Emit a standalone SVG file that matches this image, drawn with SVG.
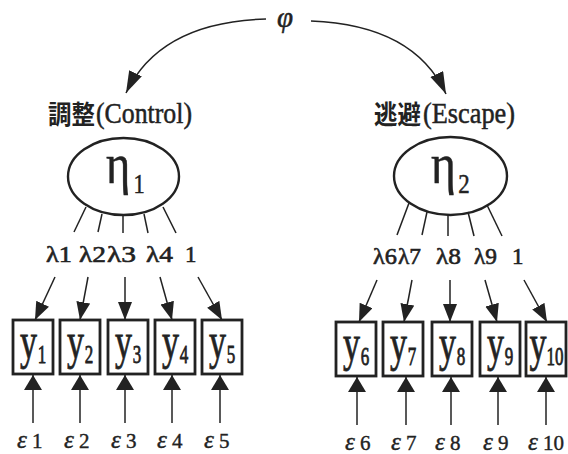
<svg xmlns="http://www.w3.org/2000/svg" width="568" height="454" viewBox="0 0 568 454">
<style>
.ln{stroke:#222;stroke-width:1.5;fill:none}
.box{fill:#fff;stroke:#222;stroke-width:2.8}
.ell{fill:#fff;stroke:#222;stroke-width:2.4}
.ser{font-family:"Liberation Serif","Times New Roman",serif;fill:#222;stroke:#222;stroke-width:0.5}
.cjk{font-family:"Noto Sans CJK JP","Noto Sans CJK SC",sans-serif;font-weight:bold;fill:#222}
.lam{font-family:"Liberation Serif",serif;font-size:23px;fill:#222;stroke:#222;stroke-width:0.6}
.eps{font-family:"Liberation Serif",serif;font-size:21px;fill:#222;stroke:#222;stroke-width:0.4}
.ep{font-style:italic;font-size:25px}
.yv{font-family:"Liberation Serif",serif;font-size:50px;fill:#222;stroke:#222;stroke-width:0.8}
.sb{font-size:25px}
.es{font-size:28px}
</style>
<defs>
<marker id="ahTop" markerUnits="userSpaceOnUse" markerWidth="20" markerHeight="16" refX="18" refY="7" orient="auto"><path d="M0,0 L18,7 L0,14 z" fill="#222"/></marker>
<marker id="ahBot" markerUnits="userSpaceOnUse" markerWidth="17" markerHeight="20" refX="15" refY="9" orient="auto"><path d="M0,0 L15,9 L0,18 z" fill="#222"/></marker>
<marker id="ahArc" markerUnits="userSpaceOnUse" markerWidth="24" markerHeight="16" refX="22" refY="7" orient="auto"><path d="M0,0 L22,7 L0,14 z" fill="#222"/></marker>
</defs>

<g id="phi"><text class="ser" x="285" y="27" font-size="29" font-style="italic" text-anchor="middle">φ</text></g>

<g id="eta1">
<text class="cjk" x="48" y="124" font-size="26" textLength="47" lengthAdjust="spacingAndGlyphs">調整</text>
<text class="ser" x="96" y="123" font-size="30" textLength="96" lengthAdjust="spacingAndGlyphs">(Control)</text>
<ellipse class="ell" cx="123.5" cy="176.5" rx="55.5" ry="38.5"/>
<text class="ser" font-size="58" transform="translate(106,183) scale(0.8,1)">η<tspan class="es" dx="4" dy="10">1</tspan></text>
</g>

<g id="eta2">
<text class="cjk" x="374" y="124" font-size="26" textLength="47" lengthAdjust="spacingAndGlyphs">逃避</text>
<text class="ser" x="423" y="123" font-size="30" textLength="92" lengthAdjust="spacingAndGlyphs">(Escape)</text>
<ellipse class="ell" cx="450.5" cy="176" rx="56.5" ry="39"/>
<text class="ser" font-size="58" transform="translate(431,183) scale(0.82,1)">η<tspan class="es" dx="3" dy="10">2</tspan></text>
</g>

<g id="y1"><rect class="box" x="13" y="320" width="40" height="54"/><text class="yv" transform="translate(20,358) scale(0.68,1)">y<tspan class="sb" dx="1" dy="5">1</tspan></text></g>
<g id="y2"><rect class="box" x="60" y="320" width="40" height="54"/><text class="yv" transform="translate(67,358) scale(0.68,1)">y<tspan class="sb" dx="1" dy="5">2</tspan></text></g>
<g id="y3"><rect class="box" x="108" y="320" width="40" height="54"/><text class="yv" transform="translate(115,358) scale(0.68,1)">y<tspan class="sb" dx="1" dy="5">3</tspan></text></g>
<g id="y4"><rect class="box" x="155" y="320" width="40" height="54"/><text class="yv" transform="translate(162,358) scale(0.68,1)">y<tspan class="sb" dx="1" dy="5">4</tspan></text></g>
<g id="y5"><rect class="box" x="202" y="320" width="40" height="54"/><text class="yv" transform="translate(209,358) scale(0.68,1)">y<tspan class="sb" dx="1" dy="5">5</tspan></text></g>

<g id="y6"><rect class="box" x="336" y="322" width="40" height="54"/><text class="yv" transform="translate(343,360) scale(0.68,1)">y<tspan class="sb" dx="1" dy="5">6</tspan></text></g>
<g id="y7"><rect class="box" x="383" y="322" width="40" height="54"/><text class="yv" transform="translate(390,360) scale(0.68,1)">y<tspan class="sb" dx="1" dy="5">7</tspan></text></g>
<g id="y8"><rect class="box" x="432" y="322" width="40" height="54"/><text class="yv" transform="translate(439,360) scale(0.68,1)">y<tspan class="sb" dx="1" dy="5">8</tspan></text></g>
<g id="y9"><rect class="box" x="480" y="322" width="40" height="54"/><text class="yv" transform="translate(487,360) scale(0.68,1)">y<tspan class="sb" dx="1" dy="5">9</tspan></text></g>
<g id="y10"><rect class="box" x="526" y="322" width="40" height="54"/><text class="yv" transform="translate(529.5,360) scale(0.68,1)">y<tspan class="sb" dx="0" dy="5">10</tspan></text></g>

<g id="e1"><text class="eps" x="17" y="448"><tspan class="ep">ε</tspan> 1</text></g>
<g id="e2"><text class="eps" x="64" y="448"><tspan class="ep">ε</tspan> 2</text></g>
<g id="e3"><text class="eps" x="111" y="448"><tspan class="ep">ε</tspan> 3</text></g>
<g id="e4"><text class="eps" x="157" y="448"><tspan class="ep">ε</tspan> 4</text></g>
<g id="e5"><text class="eps" x="204" y="448"><tspan class="ep">ε</tspan> 5</text></g>
<g id="e6"><text class="eps" x="345" y="450"><tspan class="ep">ε</tspan> 6</text></g>
<g id="e7"><text class="eps" x="391" y="450"><tspan class="ep">ε</tspan> 7</text></g>
<g id="e8"><text class="eps" x="435" y="450"><tspan class="ep">ε</tspan> 8</text></g>
<g id="e9"><text class="eps" x="483" y="450"><tspan class="ep">ε</tspan> 9</text></g>
<g id="e10"><text class="eps" x="528" y="450"><tspan class="ep">ε</tspan> 10</text></g>

<g id="connectors">
<path class="ln" d="M266,19 Q160,22 126,93" marker-end="url(#ahArc)"/>
<path class="ln" d="M311,21 Q414,25 446,94" marker-end="url(#ahArc)"/>

<line class="ln" x1="86" y1="207" x2="74" y2="232"/>
<line class="ln" x1="102" y1="214" x2="98" y2="232"/>
<line class="ln" x1="123" y1="215" x2="123" y2="233"/>
<line class="ln" x1="144" y1="214" x2="148" y2="233"/>
<line class="ln" x1="163" y1="207" x2="176" y2="233"/>

<line class="ln" x1="409" y1="203" x2="397" y2="235"/>
<line class="ln" x1="427" y1="212" x2="422" y2="235"/>
<line class="ln" x1="448" y1="215" x2="448" y2="236"/>
<line class="ln" x1="468" y1="212" x2="474" y2="236"/>
<line class="ln" x1="487" y1="205" x2="502" y2="236"/>

<line class="ln" x1="55" y1="277" x2="35" y2="320" marker-end="url(#ahTop)"/>
<line class="ln" x1="88" y1="277" x2="80" y2="320" marker-end="url(#ahTop)"/>
<line class="ln" x1="125" y1="277" x2="125" y2="320" marker-end="url(#ahTop)"/>
<line class="ln" x1="160" y1="277" x2="172" y2="320" marker-end="url(#ahTop)"/>
<line class="ln" x1="198" y1="277" x2="222" y2="320" marker-end="url(#ahTop)"/>

<line class="ln" x1="377" y1="280" x2="359" y2="322" marker-end="url(#ahTop)"/>
<line class="ln" x1="412" y1="280" x2="404" y2="322" marker-end="url(#ahTop)"/>
<line class="ln" x1="450" y1="280" x2="450" y2="322" marker-end="url(#ahTop)"/>
<line class="ln" x1="485" y1="280" x2="497" y2="322" marker-end="url(#ahTop)"/>
<line class="ln" x1="524" y1="280" x2="547" y2="322" marker-end="url(#ahTop)"/>

<line class="ln" x1="33" y1="423" x2="33" y2="375" marker-end="url(#ahBot)"/>
<line class="ln" x1="80" y1="423" x2="80" y2="375" marker-end="url(#ahBot)"/>
<line class="ln" x1="125" y1="423" x2="125" y2="375" marker-end="url(#ahBot)"/>
<line class="ln" x1="172" y1="423" x2="172" y2="375" marker-end="url(#ahBot)"/>
<line class="ln" x1="220" y1="423" x2="220" y2="375" marker-end="url(#ahBot)"/>

<line class="ln" x1="357" y1="425" x2="357" y2="377" marker-end="url(#ahBot)"/>
<line class="ln" x1="406" y1="425" x2="406" y2="377" marker-end="url(#ahBot)"/>
<line class="ln" x1="451" y1="425" x2="451" y2="377" marker-end="url(#ahBot)"/>
<line class="ln" x1="498" y1="425" x2="498" y2="377" marker-end="url(#ahBot)"/>
<line class="ln" x1="546" y1="425" x2="546" y2="377" marker-end="url(#ahBot)"/>

<g id="loadings">
<text class="lam" x="46" y="262" textLength="26" lengthAdjust="spacingAndGlyphs">λ1</text>
<text class="lam" x="79" y="262" textLength="27" lengthAdjust="spacingAndGlyphs">λ2</text>
<text class="lam" x="107" y="262" textLength="29" lengthAdjust="spacingAndGlyphs">λ3</text>
<text class="lam" x="146" y="262" textLength="27" lengthAdjust="spacingAndGlyphs">λ4</text>
<text class="lam" x="185" y="262">1</text>
<text class="lam" x="373" y="264" textLength="24" lengthAdjust="spacingAndGlyphs">λ6</text>
<text class="lam" x="398" y="264" textLength="23" lengthAdjust="spacingAndGlyphs">λ7</text>
<text class="lam" x="436" y="264" textLength="25" lengthAdjust="spacingAndGlyphs">λ8</text>
<text class="lam" x="474" y="264" textLength="23" lengthAdjust="spacingAndGlyphs">λ9</text>
<text class="lam" x="512" y="264">1</text>
</g>
</g>
</svg>
